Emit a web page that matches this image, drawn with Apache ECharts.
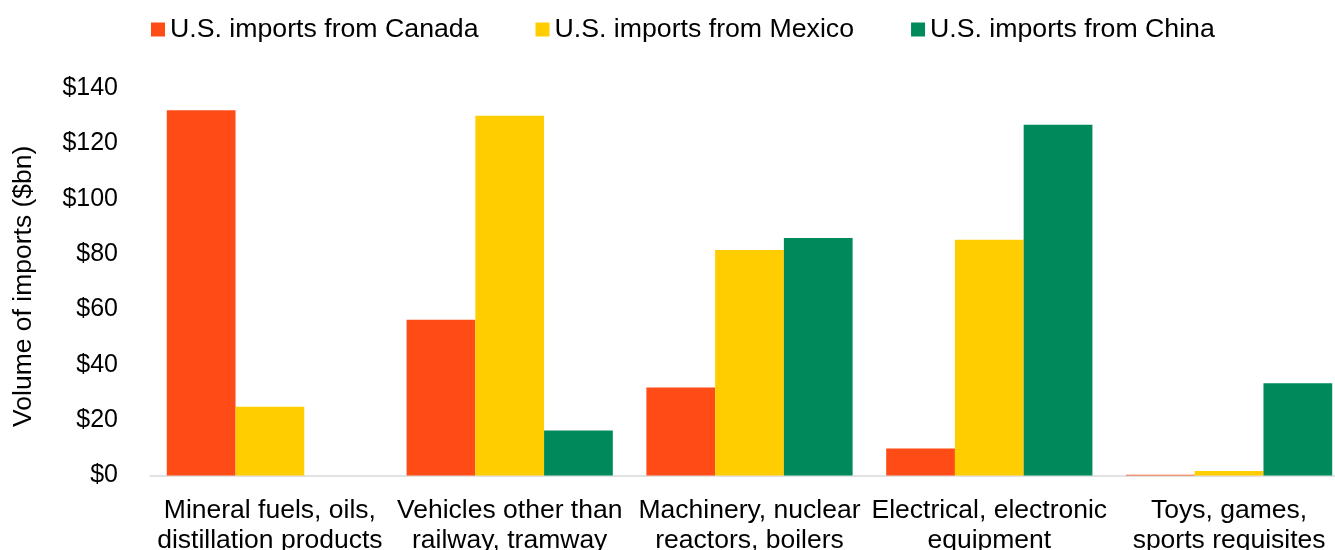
<!DOCTYPE html>
<html>
<head>
<meta charset="utf-8">
<script src="https://cdn.jsdelivr.net/npm/echarts@6/dist/echarts.min.js"></script>
<style>
  html, body { margin: 0; padding: 0; background: #ffffff; }
  #chart { width: 1335px; height: 550px; }
</style>
</head>
<body>
<div id="chart"></div>
<script>
// Product categories (HS chapters) on the x axis
const categories = [
  'Mineral fuels, oils,\ndistillation products',
  'Vehicles other than\nrailway, tramway',
  'Machinery, nuclear\nreactors, boilers',
  'Electrical, electronic\nequipment',
  'Toys, games,\nsports requisites'
];

// Import volumes in $bn
const canada = [132, 56.3, 31.8, 9.8, 0.3];
const mexico = [24.8, 130, 81.5, 85.2, 1.6];
const china  = [0, 16.3, 85.8, 126.7, 33.3];

const seriesNames = [
  'U.S. imports from Canada',
  'U.S. imports from Mexico',
  'U.S. imports from China'
];

// Y-axis ticks
const yMin = 0;
const yMax = 140;
const yStep = 20;

const FONT = '"Liberation Sans", Arial, sans-serif';
const colors = ['#FF4B15', '#FFCD00', '#008A5C'];

const chart = echarts.init(document.getElementById('chart'));

const values = [canada, mexico, china];

chart.setOption({
  animation: false,
  color: colors,
  textStyle: { fontFamily: FONT, color: '#000' },
  legend: {
    left: 151,
    top: 16,
    padding: 0,
    itemWidth: 14,
    itemHeight: 14,
    itemGap: 57,
    icon: 'rect',
    textStyle: { fontFamily: FONT, fontSize: 26.7, color: '#000' },
    data: seriesNames
  },
  grid: {
    left: 150,
    top: 88,
    width: 1199,
    height: 387.5,
    outerBoundsMode: 'none',
    containLabel: false
  },
  xAxis: {
    type: 'category',
    data: categories,
    axisLine: { show: true, lineStyle: { color: '#D9D9D9', width: 1.5 } },
    axisTick: { show: false },
    axisLabel: {
      interval: 0,
      margin: 20,
      fontFamily: FONT,
      fontSize: 26.5,
      lineHeight: 30,
      color: '#000'
    }
  },
  yAxis: {
    type: 'value',
    min: yMin,
    max: yMax,
    interval: yStep,
    name: 'Volume of imports ($bn)',
    nameLocation: 'middle',
    nameGap: 113,
    nameTextStyle: { fontFamily: FONT, fontSize: 26.5, color: '#000', padding: [0, 9, 0, 0] },
    axisLine: { show: false },
    axisTick: { show: false },
    splitLine: { show: false },
    axisLabel: {
      margin: 32,
      fontFamily: FONT,
      fontSize: 25,
      color: '#000',
      formatter: v => '$' + v
    }
  },
  series: seriesNames.map((name, i) => ({
    name: name,
    type: 'bar',
    data: values[i],
    barGap: '0%',
    barCategoryGap: '14%'
  }))
});
</script>
</body>
</html>
